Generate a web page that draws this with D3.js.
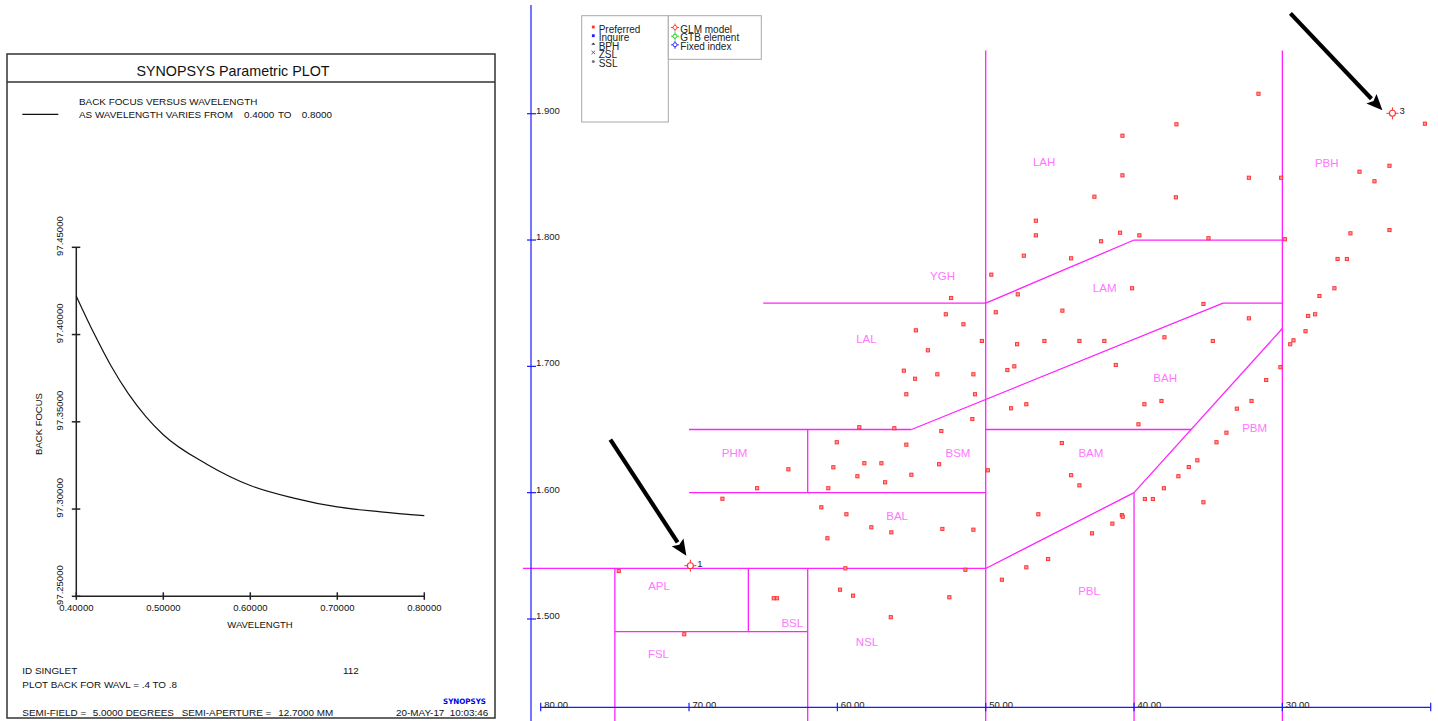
<!DOCTYPE html>
<html><head><meta charset="utf-8">
<script src="https://cdn.jsdelivr.net/npm/d3@7"></script>
<style>
html,body{margin:0;padding:0;background:#fff;}
svg{display:block;font-family:Arial,"Liberation Sans",sans-serif;}
</style></head><body>
<svg id="chart" width="1438" height="721"></svg>
<script>
// ---- Parametric plot: back focus versus wavelength ----
const wavelengths = [0.40, 0.42, 0.44, 0.46, 0.48, 0.50, 0.55, 0.60, 0.65, 0.70, 0.75, 0.80];
const backFocus   = [97.422, 97.401, 97.382, 97.366, 97.353, 97.3426, 97.3257, 97.3135, 97.3063, 97.3012, 97.2984, 97.2962];
const wlTicks = [0.4, 0.5, 0.6, 0.7, 0.8];
const bfTicks = [97.25, 97.30, 97.35, 97.40, 97.45];

// ---- Glass map: refractive index nd versus Abbe number vd ----
const glassAbbe = [52.33,52.69,51.50,54.71,50.26,53.90,55.52,54.76,53.26,50.83,55.35,50.72,50.90,58.52,56.16,52.99,
  60.04,55.35,58.18,57.03,60.27,53.14,58.65,55.01,56.78,60.61,61.08,47.84,49.32,44.83,47.88,46.04,43.68,48.54,48.07,
  48.29,47.26,49.86,44.87,44.24,43.68,40.13,35.32,32.26,42.00,37.95,34.69,41.23,39.30,38.15,39.70,30.13,31.09,32.08,
  33.07,33.77,34.44,35.73,36.31,37.01,37.99,39.27,38.73,35.32,26.49,27.50,28.26,27.79,28.44,29.25,29.47,37.14,40.78,
  40.78,42.67,37.18,46.62,46.62,40.94,39.64,42.22,47.43,44.24,49.62,31.61,32.26,30.08,34.98,29.83,20.39,22.78,24.80,
  23.79,22.78,25.41,26.28,25.65,63.30,65.41,67.75,59.39,60.67,57.71,56.36,52.92,50.83,74.74,59.46,51.37,48.91,59.82,
  58.94,52.45,64.29,64.07,56.40,70.32,46.45,40.82,40.76,41.46,42.83,45.79,47.26];
const glassIndex = [1.7541,1.7412,1.7333,1.7285,1.7201,1.7127,1.6966,1.6902,1.6937,1.6937,1.6779,1.6779,1.6583,1.6518,
  1.6510,1.6488,1.6399,1.6380,1.6233,1.6233,1.6201,1.6225,1.6130,1.6142,1.6082,1.6035,1.5884,1.7570,1.7428,1.7441,
  1.7175,1.7201,1.7201,1.6971,1.7000,1.6668,1.6700,1.6177,1.6393,1.6138,1.6058,1.7618,1.7494,1.7380,1.7201,1.7230,
  1.7201,1.7011,1.6700,1.6726,1.6541,1.6993,1.6892,1.6726,1.6665,1.6475,1.6399,1.6256,1.6203,1.6130,1.6035,1.5950,
  1.5950,1.5924,1.7618,1.7557,1.7399,1.7412,1.7278,1.7206,1.7175,1.8916,1.8826,1.8512,1.8343,1.8338,1.8153,1.8037,
  1.8058,1.8037,1.7990,1.7876,1.7855,1.7726,1.9158,1.8493,1.8493,1.8014,1.8006,1.8921,1.8588,1.8541,1.8465,1.8079,
  1.8053,1.7850,1.7850,1.6185,1.6035,1.5952,1.5829,1.5639,1.5726,1.5686,1.5713,1.5707,1.5380,1.5401,1.5390,1.5311,
  1.5232,1.5185,1.5172,1.5164,1.5164,1.5014,1.4879,1.5829,1.5823,1.5810,1.5755,1.5678,1.5475,1.5409];
const abbeTicks  = [80, 70, 60, 50, 40, 30, 20];
const indexTicks = [1.5, 1.6, 1.7, 1.8, 1.9];

// glass family regions: boundary segments [vd1, nd1, vd2, nd2]
const boundaries = [
  [81.2,1.54, 50,1.54], [75,1.54, 75,1.41], [75,1.49, 62,1.49], [66,1.54, 66,1.49],
  [62,1.54, 62,1.41], [50,1.95, 50,1.41], [50,1.54, 40,1.60], [40,1.60, 40,1.41],
  [40,1.60, 30,1.73], [30,1.95, 30,1.41], [70,1.60, 50,1.60], [70,1.65, 55,1.65],
  [62,1.65, 62,1.60], [55,1.65, 34,1.75], [34,1.75, 30,1.75], [65,1.75, 50,1.75],
  [50,1.75, 40,1.80], [40,1.80, 30,1.80], [50,1.65, 36.15,1.65]
];
const regionNames = ["LAH","PBH","YGH","LAM","LAL","BAH","PBM","PHM","BSM","BAM","BAL","PBL","APL","BSL","NSL","FSL"];
const regionAbbe  = [46.06,27.01,52.91,41.98,58.04,37.90,31.87,66.93,51.87,42.91,55.97,43.03,72.02,63.04,58.00,72.06];
const regionIndex = [1.8620,1.8615,1.7718,1.7620,1.7217,1.6913,1.6512,1.6317,1.6317,1.6314,1.5818,1.5222,1.5261,1.4966,1.4816,1.4723];

// glass model points
const modelIds   = ["1", "3"];
const modelAbbe  = [69.91, 22.58];
const modelIndex = [1.5422, 1.9003];

const svg = d3.select("#chart");

// ================= left panel =================
const L = svg.append("g");
L.append("rect").attr("x", 7).attr("y", 54).attr("width", 488).attr("height", 664)
  .attr("fill", "none").attr("stroke", "#333").attr("stroke-width", 1.5);
L.append("line").attr("x1", 7).attr("x2", 495).attr("y1", 82).attr("y2", 82)
  .attr("stroke", "#333").attr("stroke-width", 1.5);
L.append("text").attr("x", 233).attr("y", 75.5).attr("text-anchor", "middle")
  .attr("font-size", "14.3px").attr("fill", "#111").text("SYNOPSYS Parametric PLOT");

const small = (g, x, y, s, opts = {}) => g.append("text").attr("x", x).attr("y", y)
  .attr("font-size", opts.size || "9.9px").attr("fill", opts.fill || "#111")
  .attr("text-anchor", opts.anchor || "start").text(s);

L.append("line").attr("x1", 22.3).attr("x2", 58.3).attr("y1", 114.3).attr("y2", 114.3)
  .attr("stroke", "#111").attr("stroke-width", 1.2);
small(L, 79, 104.6, "BACK FOCUS VERSUS WAVELENGTH");
small(L, 79, 118, "AS WAVELENGTH VARIES FROM");
small(L, 244, 118, "0.4000");
small(L, 278, 118, "TO");
small(L, 301.7, 118, "0.8000");

const xL = d3.scaleLinear().domain([0.4, 0.8]).range([76.3, 424.3]);
const yL = d3.scaleLinear().domain([97.25, 97.45]).range([596.3, 247.3]);

const axisStroke = "#222";
L.append("line").attr("x1", xL(0.4)).attr("x2", xL(0.4)).attr("y1", yL(97.45)).attr("y2", yL(97.25))
  .attr("stroke", axisStroke).attr("stroke-width", 1.5);
L.append("line").attr("x1", xL(0.4)).attr("x2", xL(0.8)).attr("y1", yL(97.25)).attr("y2", yL(97.25))
  .attr("stroke", axisStroke).attr("stroke-width", 1.5);
bfTicks.forEach(t => {
  L.append("line").attr("x1", xL(0.4) - 4.5).attr("x2", xL(0.4) + 4).attr("y1", yL(t)).attr("y2", yL(t))
    .attr("stroke", axisStroke).attr("stroke-width", 1.5);
  L.append("text").attr("transform", `translate(63.3,${yL(t) + 8.6}) rotate(-90)`)
    .attr("font-size", "9.5px").attr("fill", "#111").text(t.toFixed(5));
});
wlTicks.forEach(t => {
  L.append("line").attr("x1", xL(t)).attr("x2", xL(t)).attr("y1", yL(97.25) - 4).attr("y2", yL(97.25) + 3.5)
    .attr("stroke", axisStroke).attr("stroke-width", 1.5);
  L.append("text").attr("x", xL(t)).attr("y", 610.8).attr("text-anchor", "middle")
    .attr("font-size", "9.5px").attr("fill", "#111").text(t.toFixed(5));
});
small(L, 260, 627.5, "WAVELENGTH", { anchor: "middle", size: "9.5px" });
L.append("text").attr("transform", "translate(42,424) rotate(-90)").attr("text-anchor", "middle")
  .attr("font-size", "9.5px").attr("fill", "#111").text("BACK FOCUS");

const bfLine = d3.line().x((d, i) => xL(wavelengths[i])).y(d => yL(d)).curve(d3.curveMonotoneX);
L.append("path").attr("d", bfLine(backFocus)).attr("fill", "none")
  .attr("stroke", "#111").attr("stroke-width", 1.2);

small(L, 22.3, 673.6, "ID SINGLET");
small(L, 343, 673.6, "112");
small(L, 22.3, 687.6, "PLOT BACK FOR WAVL = .4 TO .8");
small(L, 22.3, 716, "SEMI-FIELD =");
small(L, 92.7, 716, "5.0000 DEGREES");
small(L, 181.7, 716, "SEMI-APERTURE =");
small(L, 278.3, 716, "12.7000 MM");
small(L, 488.3, 716, "20-MAY-17  10:03:46", { anchor: "end" }).attr("xml:space", "preserve");
L.append("text").attr("x", 486).attr("y", 704).attr("text-anchor", "end")
  .attr("font-family", "DejaVu Sans").attr("font-weight", "bold").attr("font-size", "7.5px")
  .attr("fill", "#0000ee").attr("textLength", 43).attr("lengthAdjust", "spacingAndGlyphs")
  .text("SYNOPSYS");

// ================= right panel: glass map =================
const R = svg.append("g");
const xR = d3.scaleLinear().domain([80, 20]).range([540.7, 1430.7]);
const yR = d3.scaleLinear().domain([1.9, 1.5]).range([113.7, 619]);
const magenta = "#ff22ff";

// region boundaries
R.selectAll("line.bound").data(boundaries).join("line").attr("class", "bound")
  .attr("x1", d => xR(d[0])).attr("y1", d => yR(d[1]))
  .attr("x2", d => xR(d[2])).attr("y2", d => yR(d[3]))
  .attr("stroke", magenta).attr("stroke-width", 1.3);

// region names
R.selectAll("text.region").data(regionNames).join("text").attr("class", "region")
  .attr("x", (d, i) => xR(regionAbbe[i])).attr("y", (d, i) => yR(regionIndex[i]) + 4.2)
  .attr("text-anchor", "middle").attr("font-size", "11.5px").attr("fill", "#ff77ff")
  .text(d => d);

// axes
const axisBlue = "#1a1aff";
const yAxisX = 531, xAxisY = 707.3;
R.append("line").attr("x1", yAxisX).attr("x2", yAxisX).attr("y1", 5).attr("y2", 721)
  .attr("stroke", axisBlue).attr("stroke-width", 1.2);
indexTicks.forEach(t => {
  R.append("line").attr("x1", yAxisX - 4).attr("x2", yAxisX + 5).attr("y1", yR(t)).attr("y2", yR(t))
    .attr("stroke", axisBlue).attr("stroke-width", 1.2);
  R.append("text").attr("x", yAxisX + 5).attr("y", yR(t)).attr("font-size", "9.5px")
    .attr("fill", "#222").text(t.toFixed(3));
});
R.append("line").attr("x1", xR(80)).attr("x2", xR(20)).attr("y1", xAxisY).attr("y2", xAxisY)
  .attr("stroke", axisBlue).attr("stroke-width", 1.2);
abbeTicks.forEach(t => {
  R.append("line").attr("x1", xR(t)).attr("x2", xR(t)).attr("y1", xAxisY - 4.5).attr("y2", xAxisY + 4)
    .attr("stroke", axisBlue).attr("stroke-width", 1.2);
  if (t > 20) R.append("text").attr("x", xR(t) + 3.5).attr("y", xAxisY + 0.8).attr("font-size", "9.5px")
    .attr("fill", "#222").text(t.toFixed(2));
});

// catalogue glasses
R.selectAll("rect.glass").data(glassAbbe).join("rect").attr("class", "glass")
  .attr("x", d => xR(d) - 1.6).attr("y", (d, i) => yR(glassIndex[i]) - 1.6)
  .attr("width", 3.2).attr("height", 3.2)
  .attr("fill", "#ff9a9a").attr("stroke", "#ff2a2a").attr("stroke-width", 0.9);

// glass model markers
function crossCircle(g, cx, cy, color) {
  g.append("line").attr("x1", cx - 6).attr("x2", cx + 6).attr("y1", cy).attr("y2", cy)
    .attr("stroke", color).attr("stroke-width", 1);
  g.append("line").attr("x1", cx).attr("x2", cx).attr("y1", cy - 6).attr("y2", cy + 6)
    .attr("stroke", color).attr("stroke-width", 1);
  g.append("circle").attr("cx", cx).attr("cy", cy).attr("r", 3)
    .attr("fill", "#fff").attr("stroke", color).attr("stroke-width", 1.1);
}
modelIds.forEach((id, i) => {
  const cx = xR(modelAbbe[i]), cy = yR(modelIndex[i]);
  crossCircle(R, cx, cy, "#ff3030");
  R.append("text").attr("x", cx + 7).attr("y", cy + 1).attr("font-size", "9.5px").attr("fill", "#222").text(id);
});

// pointer arrows towards the model glasses (tail / tip offsets in px from each marker)
const arrowTail = [[-80, -126], [-102, -100]];
const arrowTip  = [[-4, -10], [-10, -3]];
modelIds.forEach((id, i) => {
  const cx = xR(modelAbbe[i]), cy = yR(modelIndex[i]);
  const x0 = cx + arrowTail[i][0], y0 = cy + arrowTail[i][1];
  const x1 = cx + arrowTip[i][0],  y1 = cy + arrowTip[i][1];
  const ang = Math.atan2(y1 - y0, x1 - x0);
  const headLen = 16, headW = 7;
  const bx = x1 - headLen * Math.cos(ang), by = y1 - headLen * Math.sin(ang);
  R.append("line").attr("x1", x0).attr("y1", y0).attr("x2", bx).attr("y2", by)
    .attr("stroke", "#000").attr("stroke-width", 4.2);
  const px = -Math.sin(ang), py = Math.cos(ang);
  R.append("path").attr("d", `M${x1},${y1}L${bx + px * headW},${by + py * headW}L${bx + 3 * Math.cos(ang)},${by + 3 * Math.sin(ang)}L${bx - px * headW},${by - py * headW}Z`)
    .attr("fill", "#000");
});

// legends
const legendStroke = "#a8a8a8";
R.append("rect").attr("x", 581.7).attr("y", 15.7).attr("width", 86.6).attr("height", 106.3)
  .attr("fill", "#fff").attr("stroke", legendStroke).attr("stroke-width", 1);
R.append("rect").attr("x", 668.3).attr("y", 15.7).attr("width", 93).attr("height", 43.6)
  .attr("fill", "#fff").attr("stroke", legendStroke).attr("stroke-width", 1);

const catLabels = ["Preferred", "Inquire", "BPH", "ZSL", "SSL"];
const catY = [29, 37.7, 46.3, 54.7, 63.3];
catLabels.forEach((s, i) => {
  R.append("text").attr("x", 598.7).attr("y", catY[i] + 3.6).attr("font-size", "10px")
    .attr("fill", "#222").text(s);
});
const mx = 593.3;
R.append("rect").attr("x", mx - 1.4).attr("y", catY[0] - 3.4).attr("width", 2.8).attr("height", 2.8).attr("fill", "#ff3030");
R.append("rect").attr("x", mx - 1.4).attr("y", catY[1] - 3.4).attr("width", 2.8).attr("height", 2.8).attr("fill", "#2020ff");
R.append("path").attr("d", `M${mx - 2},${catY[2] - 1.5}L${mx},${catY[2] - 3.8}L${mx + 2},${catY[2] - 1.5}Z`).attr("fill", "#333");
R.append("path").attr("d", `M${mx - 1.8},${catY[3] - 4}L${mx + 1.8},${catY[3] - 0.5}M${mx + 1.8},${catY[3] - 4}L${mx - 1.8},${catY[3] - 0.5}`)
  .attr("stroke", "#555").attr("stroke-width", 0.9);
R.append("circle").attr("cx", mx).attr("cy", catY[4] - 1.8).attr("r", 1.5).attr("fill", "#777");

const modLabels = ["GLM model", "GTB element", "Fixed index"];
const modColors = ["#ff3030", "#10d010", "#2020ff"];
modLabels.forEach((s, i) => {
  const yy = catY[i];
  const g = R.append("g");
  g.append("line").attr("x1", 671).attr("x2", 679).attr("y1", yy - 1.5).attr("y2", yy - 1.5).attr("stroke", modColors[i]).attr("stroke-width", 0.9);
  g.append("line").attr("x1", 675).attr("x2", 675).attr("y1", yy - 5.5).attr("y2", yy + 2.5).attr("stroke", modColors[i]).attr("stroke-width", 0.9);
  g.append("circle").attr("cx", 675).attr("cy", yy - 1.5).attr("r", 2).attr("fill", "#fff").attr("stroke", modColors[i]).attr("stroke-width", 0.9);
  R.append("text").attr("x", 680.3).attr("y", yy + 3.6).attr("font-size", "10px").attr("fill", "#222").text(s);
});
</script>
</body></html>
